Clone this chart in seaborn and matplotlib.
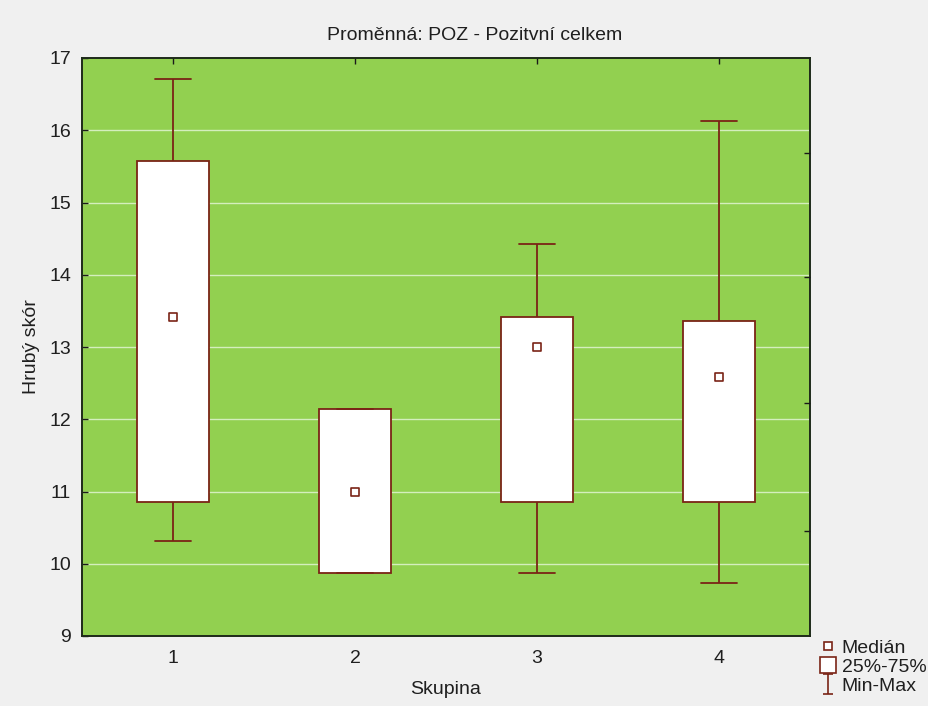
import numpy as np
import pandas as pd
import matplotlib
matplotlib.use("Agg")
import matplotlib.pyplot as plt
from matplotlib.lines import Line2D
from matplotlib.path import Path
import seaborn as sns

# ---- data ----
groups = ["1", "2", "3", "4"]
mins = [10.31, 9.87, 9.87, 9.74]
q1s = [10.85, 9.87, 10.85, 10.85]
medians = [13.41, 11.00, 13.00, 12.59]
q3s = [15.57, 12.14, 13.41, 13.36]
maxs = [16.71, 12.14, 14.42, 16.13]
yticks = [9, 10, 11, 12, 13, 14, 15, 16, 17]
right_ticks = [10.46, 12.22, 13.97, 15.69]

title = "Proměnná: POZ - Pozitvní celkem"
xlabel = "Skupina"
ylabel = "Hrubý skór"
legend_labels = ["Medián", "25%-75%", "Min-Max"]

# long-form table: 5 values per group reproduce min/q1/median/q3/max exactly
rows = []
for g, a, b, c, d, e in zip(groups, mins, q1s, medians, q3s, maxs):
    for v in (a, b, c, d, e):
        rows.append({"Skupina": g, "value": v})
df = pd.DataFrame(rows)

sns.set_theme(style="white")
plt.rcParams["font.family"] = ["Liberation Sans", "DejaVu Sans"]

GREEN = "#92D050"
BG = "#F0F0F0"
MAROON = "#7a2416"
TXT = "#1f1f1f"
FS = 14

fig = plt.figure(figsize=(9.29, 7.06), dpi=100, facecolor=BG)
ax = fig.add_axes([82 / 929, 1 - 636 / 706, 728 / 929, 578 / 706])
ax.set_facecolor(GREEN)

for yv in yticks[1:-1]:
    ax.axhline(yv, color="#d4eebd", lw=1.0, zorder=0.5)

sns.boxplot(
    data=df, x="Skupina", y="value", order=groups, ax=ax,
    whis=(0, 100), width=0.4, color="white", saturation=1,
    linecolor=MAROON, linewidth=1.3, showfliers=False,
    medianprops=dict(visible=False),
    boxprops=dict(facecolor="white", edgecolor=MAROON, zorder=2),
    whiskerprops=dict(color=MAROON, zorder=2),
    capprops=dict(color=MAROON, zorder=2),
)

xpos = np.arange(len(groups))
sns.scatterplot(x=xpos, y=medians, ax=ax, marker="s", s=32,
                color="white", edgecolor=MAROON, linewidth=1.2, zorder=4,
                legend=False)

ax.set_xlim(-0.5, len(groups) - 0.5)
ax.set_ylim(yticks[0], yticks[-1])
ax.set_yticks(yticks)
ax.set_yticklabels([str(t) for t in yticks])
ax.set_xticks(xpos)
ax.set_xticklabels(groups)
ax.tick_params(axis="both", direction="in", length=4, width=1, color="#1a1a1a",
               labelsize=FS, labelcolor=TXT)
ax.tick_params(axis="x", pad=10, top=True)
ax.tick_params(axis="y", pad=8)
for s in ax.spines.values():
    s.set_color("#1e2a1a")
    s.set_linewidth(1.4)

ax.set_xlabel(xlabel, fontsize=FS, color=TXT)
ax.set_ylabel(ylabel, fontsize=FS, color=TXT)
ax.xaxis.set_label_coords(0.5, (636 - 681) / 578)
ax.yaxis.set_label_coords((40 - 82) / 728, 0.5)

ax2 = ax.twinx()
ax2.set_ylim(ax.get_ylim())
ax2.set_yticks(right_ticks)
ax2.set_yticklabels([])
ax2.tick_params(axis="y", direction="in", length=4, width=1, color="#1a1a1a")
for s in ax2.spines.values():
    s.set_visible(False)

fig.text(475 / 929, 1 - 35 / 706, title, ha="center", va="center",
         fontsize=FS, color=TXT)

# legend
verts = [(-0.5, 1), (0.5, 1), (0, 1), (0, -1), (-0.5, -1), (0.5, -1)]
codes = [Path.MOVETO, Path.LINETO, Path.MOVETO, Path.LINETO, Path.MOVETO, Path.LINETO]
ipath = Path(verts, codes)
handles = [
    Line2D([], [], ls="none", marker="s", ms=5.5, mfc="white", mec=MAROON, mew=1.2),
    Line2D([], [], ls="none", marker="s", ms=12, mfc="white", mec=MAROON, mew=1.2),
    Line2D([], [], ls="none", marker=ipath, ms=15, mfc="none", mec=MAROON, mew=1.2),
]
fig.legend(handles, legend_labels, loc="lower right",
           bbox_to_anchor=(1.012, -0.004), frameon=False, fontsize=FS,
           handlelength=0.9, handletextpad=0.25, labelspacing=0.08,
           borderaxespad=0.3, labelcolor=TXT)

fig.savefig("out.png", dpi=100, facecolor=BG)
